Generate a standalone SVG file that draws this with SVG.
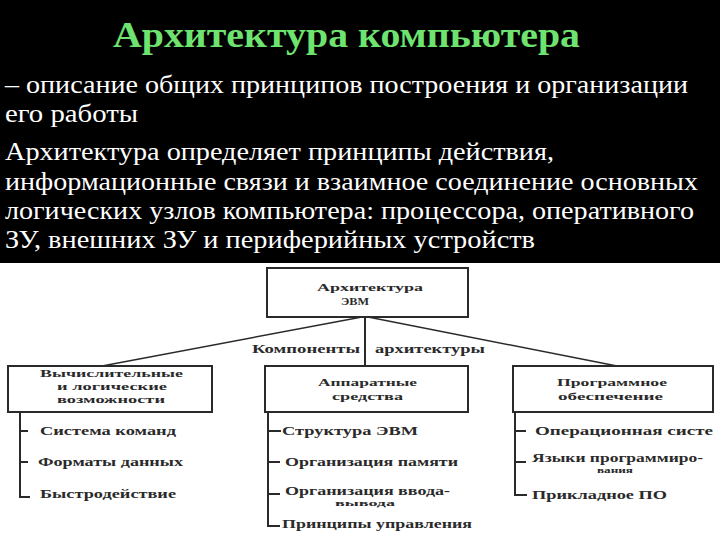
<svg xmlns="http://www.w3.org/2000/svg" width="720" height="540" viewBox="0 0 720 540">
<style>
.title{font-family:"Liberation Serif","Times New Roman",serif;font-weight:bold;font-size:36px;fill:#6fe36f}
.body{font-family:"Liberation Serif","Times New Roman",serif;font-size:25px;fill:#ffffff}
.box{fill:#ffffff;stroke:#2a2a2a;stroke-width:2}
.lbl{font-family:"Liberation Serif","Times New Roman",serif;font-weight:bold;font-size:12px;fill:#2a2a2a}
.bx{font-family:"Liberation Serif","Times New Roman",serif;font-weight:bold;font-size:11px;fill:#2a2a2a}
.sm{font-family:"Liberation Serif","Times New Roman",serif;font-weight:bold;font-size:8px;fill:#2a2a2a}
.ln{fill:none;stroke:#2a2a2a;stroke-width:2}
.ln1{fill:none;stroke:#2a2a2a;stroke-width:1.5}
</style>
<rect x="0" y="0" width="720" height="540" fill="#ffffff"/>
<rect x="0" y="0" width="720" height="263" fill="#000000"/>
<g id="header">
<text class="title" x="113" y="47" textLength="467" lengthAdjust="spacingAndGlyphs">Архитектура компьютера</text>
<text class="body" x="5" y="93" textLength="683" lengthAdjust="spacingAndGlyphs">– описание общих принципов построения и организации</text>
<text class="body" x="5" y="122" textLength="133" lengthAdjust="spacingAndGlyphs">его работы</text>
<text class="body" x="5" y="160" textLength="549" lengthAdjust="spacingAndGlyphs">Архитектура определяет принципы действия,</text>
<text class="body" x="5" y="190" textLength="693" lengthAdjust="spacingAndGlyphs">информационные связи и взаимное соединение основных</text>
<text class="body" x="5" y="219" textLength="689" lengthAdjust="spacingAndGlyphs">логических узлов компьютера: процессора, оперативного</text>
<text class="body" x="5" y="248" textLength="530" lengthAdjust="spacingAndGlyphs">ЗУ, внешних ЗУ и периферийных устройств</text>
</g>
<g id="connectors">
<line class="ln" x1="365" y1="317" x2="365" y2="366"/>
<line class="ln1" x1="362" y1="317" x2="102" y2="366"/>
<line class="ln1" x1="368" y1="317" x2="617" y2="366"/>
<path class="ln" d="M20 413 V497 H30 M20 431 H28 M20 462 H28"/>
<path class="ln" d="M268 413 V526 H280 M268 431 H281 M268 462 H280 M268 494 H280"/>
<path class="ln" d="M515 413 V495 H527 M515 431 H526 M515 462 H526"/>
</g>
<g id="n-arch">
<rect class="box" x="267" y="268" width="201" height="49"/>
<text class="bx" x="317" y="291" textLength="106" lengthAdjust="spacingAndGlyphs">Архитектура</text>
<text class="bx" x="341" y="305" textLength="28" lengthAdjust="spacingAndGlyphs">ЭВМ</text>
</g>
<g id="n-components">
<text class="lbl" x="252" y="353" textLength="108" lengthAdjust="spacingAndGlyphs">Компоненты</text>
<text class="lbl" x="375" y="353" textLength="110" lengthAdjust="spacingAndGlyphs">архитектуры</text>
</g>
<g id="n-calc">
<rect class="box" x="8" y="366" width="204" height="46"/>
<text class="bx" x="40" y="377" textLength="143" lengthAdjust="spacingAndGlyphs">Вычислительные</text>
<text class="bx" x="57" y="390" textLength="110" lengthAdjust="spacingAndGlyphs">и логические</text>
<text class="bx" x="57" y="403" textLength="108" lengthAdjust="spacingAndGlyphs">возможности</text>
</g>
<g id="n-hw">
<rect class="box" x="265" y="366" width="203" height="46"/>
<text class="bx" x="318" y="386" textLength="99" lengthAdjust="spacingAndGlyphs">Аппаратные</text>
<text class="bx" x="332" y="400" textLength="71" lengthAdjust="spacingAndGlyphs">средства</text>
</g>
<g id="n-sw">
<rect class="box" x="513" y="366" width="200" height="46"/>
<text class="bx" x="557" y="386" textLength="110" lengthAdjust="spacingAndGlyphs">Программное</text>
<text class="bx" x="558" y="400" textLength="105" lengthAdjust="spacingAndGlyphs">обеспечение</text>
</g>
<g id="n-calc-items">
<text class="lbl" x="40" y="435" textLength="136" lengthAdjust="spacingAndGlyphs">Система команд</text>
<text class="lbl" x="38" y="466" textLength="145" lengthAdjust="spacingAndGlyphs">Форматы данных</text>
<text class="lbl" x="40" y="498" textLength="136" lengthAdjust="spacingAndGlyphs">Быстродействие</text>
</g>
<g id="n-hw-items">
<text class="lbl" x="282" y="435" textLength="136" lengthAdjust="spacingAndGlyphs">Структура ЭВМ</text>
<text class="lbl" x="285" y="466" textLength="173" lengthAdjust="spacingAndGlyphs">Организация памяти</text>
<text class="lbl" x="285" y="495" textLength="165" lengthAdjust="spacingAndGlyphs">Организация ввода-</text>
<text class="sm" x="335" y="506" textLength="60" lengthAdjust="spacingAndGlyphs">вывода</text>
<text class="lbl" x="282" y="528" textLength="190" lengthAdjust="spacingAndGlyphs">Принципы управления</text>
</g>
<g id="n-sw-items">
<text class="lbl" x="535" y="435" textLength="178" lengthAdjust="spacingAndGlyphs">Операционная систе</text>
<text class="lbl" x="532" y="462" textLength="171" lengthAdjust="spacingAndGlyphs">Языки программиро-</text>
<text class="sm" x="597" y="473" textLength="36" lengthAdjust="spacingAndGlyphs">вания</text>
<text class="lbl" x="532" y="499" textLength="135" lengthAdjust="spacingAndGlyphs">Прикладное ПО</text>
</g>
</svg>
